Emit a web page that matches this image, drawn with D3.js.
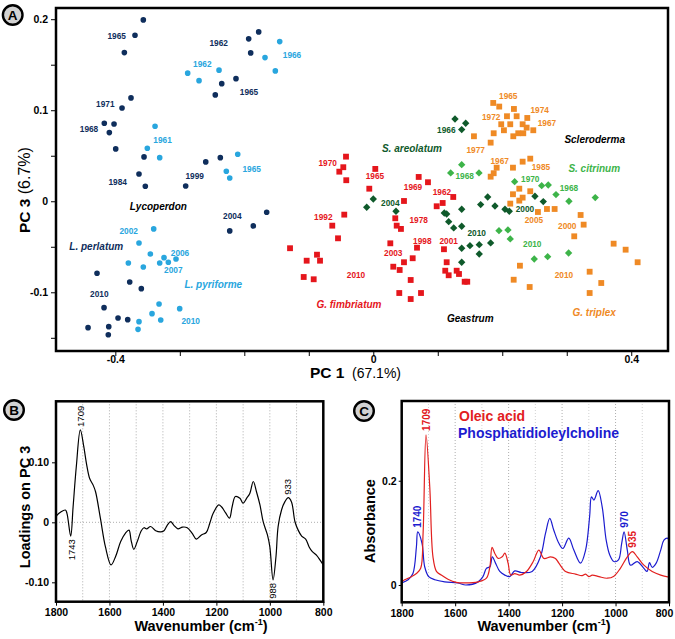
<!DOCTYPE html>
<html>
<head>
<meta charset="utf-8">
<script src="https://cdnjs.cloudflare.com/ajax/libs/d3/7.8.5/d3.min.js"></script>
<style>
    body { margin: 0; background: #fff; }
    svg { font-family: 'Liberation Sans', Arial, sans-serif; }
    .axis text { font-size: 10.5px; font-weight: bold; fill: #000; }
    .axis line { stroke: #000; stroke-width: 1; }
    .year { font-size: 8.3px; font-weight: bold; text-anchor: middle; }
    .species { font-size: 10px; font-weight: bold; font-style: italic; text-anchor: middle; }
    .title { font-size: 14.5px; font-weight: bold; }
    .grid { stroke: #999; stroke-width: 0.8; stroke-dasharray: 1,2; }
    .frame { fill: none; stroke: #000; stroke-width: 2.5; }
</style>
</head>
<body>
<div id="chart"></div>
<script>
// ---------- panel A : PCA scores [PC1, PC3]
var perlatum = [[-0.3566,0.1992],[-0.3695,0.1824],[-0.3860,0.1633],[-0.3757,0.1135],[-0.3896,0.1025],
    [-0.4171,0.0857],[-0.4020,0.0849],[-0.4093,0.0754],[-0.3994,0.0575],[-0.3555,0.0487],[-0.3633,0.0300],
    [-0.3535,0.0165],[-0.2909,0.0168],[-0.2598,0.0432],[-0.2372,0.0479],[-0.2450,0.1168],[-0.2350,0.1292],
    [-0.2129,0.1347],[-0.1932,0.1784],[-0.1777,0.1860],[-0.1901,0.1630],[-0.1653,-0.0121],[-0.1860,-0.0271],
    [-0.2226,-0.0326],[-0.4284,-0.0791],[-0.3777,-0.0887],[-0.3597,-0.0960],[-0.4175,-0.1169],[-0.3958,-0.1282],
    [-0.3808,-0.1301],[-0.4423,-0.1389],[-0.4102,-0.1378],[-0.4109,-0.1466]];
var pyriforme = [[-0.2878,0.1407],[-0.2702,0.1325],[-0.2392,0.1440],[-0.1679,0.1578],[-0.1451,0.1754],
    [-0.1519,0.1432],[-0.3384,0.0824],[-0.3504,0.0582],[-0.3312,0.0479],[-0.2102,0.0516],[-0.2279,0.0330],
    [-0.2226,0.0256],[-0.3405,-0.0304],[-0.3633,-0.0458],[-0.3457,-0.0579],[-0.3798,-0.0678],[-0.3566,-0.0722],
    [-0.3312,-0.0678],[-0.3245,-0.0620],[-0.3178,-0.0670],[-0.3059,-0.0634],[-0.3322,-0.1129],[-0.3002,-0.1180],
    [-0.3431,-0.1235],[-0.3296,-0.1304],[-0.3633,-0.1323],[-0.3648,-0.1407]];
var fimbriatum = [[-0.0527,0.0325],[-0.0636,-0.0268],[-0.0547,-0.0407],[-0.1291,-0.0516],[-0.1033,-0.0653],
    [-0.0873,-0.0587],[-0.0826,-0.0653],[-0.1079,-0.0832],[-0.0924,-0.0857],[-0.0423,0.0490],[-0.0465,0.0374],
    [-0.0419,0.0231],[0.0031,0.0355],[-0.0062,0.0138],[0.0704,0.0267],[0.0848,0.0209],[0.0476,0.0003],
    [0.0341,-0.0187],[0.0363,-0.0268],[0.0429,-0.0304],[0.0264,-0.0462],[0.0678,-0.0510],[0.0611,-0.0626],
    [0.0476,-0.0670],[0.0310,-0.0719],[0.0409,-0.0755],[0.0580,-0.0865],[0.0403,-0.1008],[0.0580,-0.1074],
    [0.0740,-0.1008],[0.0983,-0.0055],[0.1076,-0.0019],[0.1240,0.0047],[-0.0450,-0.0147],[0.1096,-0.0527],
    [0.1138,-0.0670],[0.1116,-0.0763],[0.1169,-0.0813],[0.1293,-0.0763],[0.1329,-0.0799],[0.1417,-0.0884],
    [0.1457,-0.0884]];
var areolatum = [[0.1267,0.0904],[0.1433,0.0857],[0.1371,0.0787],[-0.0102,-0.0066],[0.0000,0.0025],
    [0.0352,-0.0110],[0.1101,-0.0129],[0.1138,-0.0140],[0.1169,-0.0224],[0.1247,-0.0293],[0.1371,-0.0088],
    [0.1371,-0.0275],[0.1774,0.0047],[0.1665,-0.0037],[0.1887,-0.0052],[0.2042,-0.0088],[0.2109,-0.0110],
    [0.2507,0.0055],[0.2636,-0.0004],[0.1371,-0.0516],[0.1499,-0.0488],[0.1643,-0.0477],[0.1820,-0.0458],
    [0.1643,-0.0579],[0.1371,-0.0670]];
var citrinum = [[0.1371,0.0402],[0.1200,0.0311],[0.1639,0.0311],[0.2192,0.0215],[0.2611,0.0171],
    [0.2713,0.0179],[0.2833,0.0073],[0.3034,0.0000],[0.3442,0.0040],[0.1949,-0.0323],[0.2088,-0.0315],
    [0.2124,-0.0414],[0.2496,-0.0634],[0.2704,-0.0609],[0.3029,-0.0568]];
var triplex = [[0.1860,0.1080],[0.1953,0.1040],[0.2181,0.1014],[0.2073,0.0934],[0.2223,0.0934],
    [0.2388,0.0915],[0.1984,0.0846],[0.2124,0.0846],[0.2316,0.0846],[0.2378,0.0809],[0.2481,0.0780],
    [0.2026,0.0780],[0.1867,0.0747],[0.1561,0.0714],[0.2171,0.0714],[0.2248,0.0747],[0.2326,0.0747],
    [0.1820,0.0644],[0.1913,0.0369],[0.1867,0.0308],[0.1820,0.0270],[0.2166,0.0369],[0.2316,0.0435],
    [0.2434,0.0468],[0.2264,0.0138],[0.2166,0.0077],[0.2434,0.0110],[0.2316,0.0040],[0.2264,0.0007],
    [0.2124,-0.0026],[0.2553,-0.0118],[0.2693,-0.0085],[0.2812,-0.0085],[0.3215,-0.0151],[0.3262,-0.0257],
    [0.3116,-0.0385],[0.3727,-0.0466],[0.3913,-0.0532],[0.4099,-0.0670],[0.2274,-0.0708],[0.2177,-0.0862],
    [0.2425,-0.0942],[0.3355,-0.0774],[0.3535,-0.0898],[0.3355,-0.1008]];

// collection years written next to the points [year, PC1, PC3]
var perlatumYears = [['1965',-0.3978,0.1809],['1962',-0.2397,0.1736],['1965',-0.1927,0.1201],['1971',-0.4155,0.1069],
    ['1968',-0.4408,0.0798],['1984',-0.3963,0.0215],['1999',-0.2769,0.0278],['2004',-0.2186,-0.0162],['2010',-0.4248,-0.1019]];
var pyriformeYears = [['1962',-0.2651,0.1509],['1966',-0.1260,0.1608],['1961',-0.3267,0.0677],['1965',-0.1885,0.0355],
    ['2002',-0.3792,-0.0323],['2006',-0.2997,-0.0565],['2007',-0.3101,-0.0752],['2010',-0.2831,-0.1315]];
var fimbriatumYears = [['1970',-0.0707,0.0424],['1965',0.0026,0.0278],['1969',0.0616,0.0154],['1962',0.1065,0.0105],
    ['1992',-0.0775,-0.0169],['1978',0.0704,-0.0205],['1998',0.0760,-0.0433],['2001',0.1169,-0.0440],
    ['2003',0.0310,-0.0565],['2010',-0.0268,-0.0807]];
var areolatumYears = [['1966',0.1132,0.0780],['2004',0.0264,-0.0022],['2010',0.1603,-0.0348],['2000',0.2352,-0.0088]];
var citrinumYears = [['1968',0.1417,0.0275],['1970',0.2434,0.0248],['1968',0.3034,0.0149],['2010',0.2465,-0.0473]];
var triplexYears = [['1965',0.2093,0.1157],['1974',0.2580,0.1000],['1972',0.1829,0.0930],['1967',0.2693,0.0857],
    ['1977',0.1588,0.0560],['1967',0.1960,0.0446],['1985',0.2600,0.0377],['2005',0.2491,-0.0205],
    ['2000',0.3008,-0.0268],['2010',0.2957,-0.0810]];

var speciesNames = ['L. perlatum', 'L. pyriforme', 'G. fimbriatum', 'S. areolatum', 'S. citrinum', 'G. triplex'];
var speciesNamePos = [[-0.4295,-0.0499],[-0.2481,-0.0912],[-0.0377,-0.1129],[0.0600,0.0575],[0.3426,0.0358],[0.3426,-0.1220]];
var genusNames = ['Lycoperdon', 'Scleroderma', 'Geastrum'];
var genusPos = [[-0.3333,-0.0059],[0.3433,0.0681],[0.1504,-0.1286]];

var pc1Ticks = [-0.4, -0.3, -0.2, -0.1, 0, 0.1, 0.2, 0.3, 0.4];
var pc1Labels = ['-0.4', '', '', '', '0', '', '', '', '0.4'];
var pc3Ticks = [-0.15, -0.1, -0.05, 0, 0.05, 0.1, 0.15, 0.2];
var pc3Labels = ['', '-0.1', '', '0', '', '0.1', '', '0.2'];

// ---------- panel B : loadings on PC 3
var loadingWn = [1800,1796,1765,1759,1745,1736,1724,1709,1696,1686,1674,1661,1652,1634,1615,1594,1577,1558,1540,
    1527,1519,1509,1496,1481,1471,1461,1446,1427,1409,1396,1384,1371,1359,1344,1327,1309,1291,1275,1256,1238,
    1225,1212,1191,1181,1166,1151,1141,1129,1112,1100,1087,1075,1062,1050,1037,1025,1009,1000,988,977,969,956,
    944,931,919,906,894,881,866,853,841,825,812,800];
var loadingVal = [0.007,0.012,0.0205,0.015,-0.023,0.026,0.093,0.154,0.126,0.098,0.073,0.062,0.051,0.007,-0.041,
    -0.071,-0.057,-0.032,-0.018,-0.013,-0.030,-0.045,-0.032,-0.014,-0.009,-0.011,-0.007,-0.014,-0.016,-0.014,
    -0.005,0.001,-0.005,-0.011,-0.008,-0.009,-0.018,-0.028,-0.021,-0.017,-0.002,0.015,0.029,0.026,0.016,0.007,
    0.026,0.043,0.040,0.032,0.040,0.048,0.068,0.051,0.029,0.001,-0.021,-0.041,-0.096,-0.057,-0.007,0.021,0.034,
    0.041,0.034,0.001,-0.013,-0.023,-0.028,-0.041,-0.049,-0.055,-0.063,-0.071];
var loadingPeaks = [['1709',1709,'up'],['1743',1743,'down'],['988',988,'down'],['933',933,'up']];

// ---------- panel C : reference spectra
var oleicWn = [1800,1789,1764,1745,1729,1720,1709,1695,1683,1670,1652,1627,1596,1564,1514,1483,1470,1462,1452,
    1439,1424,1414,1402,1392,1377,1358,1333,1308,1287,1268,1243,1225,1212,1187,1150,1125,1112,1100,1087,1062,
    1031,1006,982,956,937,919,894,863,831,800];
var oleicAbs = [0.006,0.010,0.016,0.022,0.032,0.099,0.288,0.188,0.054,0.026,0.019,0.011,0.005,0.004,0.006,0.013,
    0.035,0.072,0.061,0.051,0.054,0.061,0.042,0.019,0.022,0.019,0.026,0.045,0.067,0.051,0.054,0.051,0.042,0.026,
    0.021,0.018,0.021,0.016,0.019,0.016,0.013,0.017,0.032,0.054,0.064,0.054,0.038,0.026,0.019,0.015];
var pocWn = [1800,1776,1758,1745,1740,1724,1714,1699,1676,1639,1590,1560,1514,1496,1483,1470,1461,1449,1433,
    1414,1396,1377,1352,1312,1281,1262,1246,1231,1212,1197,1175,1156,1131,1112,1097,1090,1081,1065,1050,1035,
    1022,1006,989,977,968,956,944,919,894,882,873,863,848,831,819,806,800];
var pocAbs = [0.004,0.010,0.022,0.073,0.102,0.080,0.035,0.016,0.010,0.006,0.004,0.000,0.006,0.016,0.032,0.035,
    0.054,0.042,0.026,0.019,0.016,0.027,0.024,0.026,0.054,0.099,0.128,0.105,0.080,0.070,0.090,0.067,0.042,0.067,
    0.131,0.169,0.163,0.181,0.150,0.086,0.058,0.045,0.048,0.080,0.102,0.067,0.038,0.045,0.032,0.026,0.043,0.034,
    0.042,0.067,0.086,0.090,0.086];
var oleicPeaks = [['1709',1709,0.288],['935',935,0.064]];
var pocPeaks = [['1740',1740,0.102],['970',968,0.102]];

var wnTicks = [1800, 1600, 1400, 1200, 1000, 800];
var wnGrid = [1700, 1600, 1500, 1400, 1300, 1200, 1100, 1000, 900];
var loadingTicks = [-0.1, 0, 0.1];
var loadingLabels = ['-0.10', '0', '0.10'];
var absTicks = [0, 0.2];
var absLabels = ['0', '0.2'];

var colors = {
    navy: '#0f2e5c', sky: '#29a6de', red: '#e5161c',
    dgreen: '#0f5a2b', lgreen: '#3db449', orange: '#ef8a25'
};

var svg = d3.select('#chart')
    .append('svg')
    .attr('width', 675)
    .attr('height', 639);

drawScatter();
drawLoadings();
drawSpectra();

function panelBadge (x, y, letter) {
    svg.append('circle')
        .attr('cx', x).attr('cy', y).attr('r', 9.8)
        .attr('fill', '#d2d2d2').attr('stroke', '#000').attr('stroke-width', 2.4);
    svg.append('text')
        .attr('x', x).attr('y', y + 4.8)
        .attr('text-anchor', 'middle')
        .style('font-size', '13.5px').style('font-weight', 'bold')
        .text(letter);
}

function cleanAxis (g) {
    g.select('.domain').remove();
}

function wavenumberTitle (cx) {
    var t = svg.append('text')
        .attr('class', 'title')
        .attr('x', cx).attr('y', 631)
        .attr('text-anchor', 'middle');
    t.append('tspan').text('Wavenumber (cm');
    t.append('tspan').attr('dy', -6).style('font-size', '9px').text('-1');
    t.append('tspan').attr('dy', 6).text(')');
}

function drawScatter () {
    var x = d3.scaleLinear().domain([-0.492, 0.457]).range([56, 668]);
    var y = d3.scaleLinear().domain([-0.1645, 0.2123]).range([351, 8]);

    svg.append('g')
        .attr('class', 'axis')
        .attr('transform', 'translate(0,351)')
        .call(d3.axisBottom(x).tickValues(pc1Ticks).tickSize(5).tickPadding(0)
            .tickFormat(function (d, i) { return pc1Labels[i]; }))
        .call(cleanAxis);

    svg.append('g')
        .attr('class', 'axis')
        .attr('transform', 'translate(56,0)')
        .call(d3.axisLeft(y).tickValues(pc3Ticks).tickSize(5).tickPadding(3)
            .tickFormat(function (d, i) { return pc3Labels[i]; }))
        .call(cleanAxis);

    var groups = [
        { pts: perlatum, years: perlatumYears, color: colors.navy, shape: 'circle' },
        { pts: pyriforme, years: pyriformeYears, color: colors.sky, shape: 'circle' },
        { pts: fimbriatum, years: fimbriatumYears, color: colors.red, shape: 'square' },
        { pts: areolatum, years: areolatumYears, color: colors.dgreen, shape: 'diamond' },
        { pts: citrinum, years: citrinumYears, color: colors.lgreen, shape: 'diamond' },
        { pts: triplex, years: triplexYears, color: colors.orange, shape: 'square' }
    ];

    var symbols = {
        circle: d3.symbol(d3.symbolCircle, 25),
        square: d3.symbol(d3.symbolSquare, 34),
        diamond: d3.symbol(d3.symbolSquare, 27)
    };

    groups.forEach(function (grp, gi) {
        var g = svg.append('g');

        g.selectAll('path')
            .data(grp.pts)
            .enter()
            .append('path')
            .attr('d', symbols[grp.shape])
            .attr('fill', grp.color)
            .attr('transform', function (d) {
                var t = 'translate(' + x(d[0]) + ',' + y(d[1]) + ')';
                return grp.shape === 'diamond' ? t + ' rotate(45)' : t;
            });

        g.selectAll('text.year')
            .data(grp.years)
            .enter()
            .append('text')
            .attr('class', 'year')
            .attr('fill', grp.color)
            .attr('x', function (d) { return x(d[1]); })
            .attr('y', function (d) { return y(d[2]); })
            .attr('dy', '0.35em')
            .text(function (d) { return d[0]; });

        g.append('text')
            .attr('class', 'species')
            .attr('fill', grp.color)
            .attr('x', x(speciesNamePos[gi][0]))
            .attr('y', y(speciesNamePos[gi][1]))
            .attr('dy', '0.35em')
            .text(speciesNames[gi]);
    });

    svg.selectAll('text.genus')
        .data(genusNames)
        .enter()
        .append('text')
        .attr('class', 'species')
        .attr('fill', '#000')
        .attr('x', function (d, i) { return x(genusPos[i][0]); })
        .attr('y', function (d, i) { return y(genusPos[i][1]); })
        .attr('dy', '0.35em')
        .text(function (d) { return d; });

    svg.append('rect')
        .attr('class', 'frame')
        .attr('x', 56).attr('y', 8)
        .attr('width', 612).attr('height', 343);

    var xt = svg.append('text').attr('x', 310).attr('y', 378);
    xt.append('tspan').style('font-size', '15.5px').style('font-weight', 'bold').text('PC 1');
    xt.append('tspan').attr('x', 352).style('font-size', '14px').text('(67.1%)');

    var yt = svg.append('text').attr('transform', 'translate(30,233) rotate(-90)');
    yt.append('tspan').style('font-size', '15.5px').style('font-weight', 'bold').text('PC 3 ');
    yt.append('tspan').style('font-size', '16px').text('(6.7%)');

    panelBadge(12.7, 15, 'A');
}

function drawLoadings () {
    var left = 56, right = 323.3, top = 401.3, bottom = 601.7;
    var x = d3.scaleLinear().domain([1800, 800]).range([left, right]);
    var y = d3.scaleLinear().domain([-0.1323, 0.2017]).range([bottom, top]);

    svg.append('g')
        .selectAll('line')
        .data(wnGrid)
        .enter()
        .append('line')
        .attr('class', 'grid')
        .attr('x1', function (d) { return x(d); })
        .attr('x2', function (d) { return x(d); })
        .attr('y1', top).attr('y2', bottom);

    svg.append('line')
        .attr('class', 'grid')
        .attr('x1', left).attr('x2', right)
        .attr('y1', y(0)).attr('y2', y(0));

    svg.append('g')
        .attr('class', 'axis')
        .attr('transform', 'translate(0,' + bottom + ')')
        .call(d3.axisBottom(x).tickValues(wnTicks).tickSize(4).tickPadding(3).tickFormat(d3.format('d')))
        .call(cleanAxis);

    svg.append('g')
        .attr('class', 'axis')
        .attr('transform', 'translate(' + left + ',0)')
        .call(d3.axisLeft(y).tickValues(loadingTicks).tickSize(4).tickPadding(3)
            .tickFormat(function (d, i) { return loadingLabels[i]; }))
        .call(cleanAxis);

    svg.append('clipPath').attr('id', 'clipB')
        .append('rect').attr('x', left).attr('y', top).attr('width', right - left).attr('height', bottom - top);

    var line = d3.line()
        .x(function (d, i) { return x(loadingWn[i]); })
        .y(function (d) { return y(d); })
        .curve(d3.curveCatmullRom.alpha(0.5));

    svg.append('path')
        .datum(loadingVal)
        .attr('clip-path', 'url(#clipB)')
        .attr('d', line)
        .attr('fill', 'none')
        .attr('stroke', '#000')
        .attr('stroke-width', 1.2);

    svg.selectAll('text.peakB')
        .data(loadingPeaks)
        .enter()
        .append('text')
        .attr('class', 'peakB')
        .style('font-size', '9.5px')
        .attr('text-anchor', function (d) { return d[2] === 'up' ? 'start' : 'end'; })
        .attr('dy', '0.35em')
        .attr('transform', function (d) {
            var near = d3.least(loadingWn.map(function (w, k) { return [Math.abs(w - d[1]), loadingVal[k]]; }),
                function (p) { return p[0]; });
            var yy = d[2] === 'up' ? y(near[1]) - 3 : y(near[1]) + 3;
            return 'translate(' + x(d[1]) + ',' + yy + ') rotate(-90)';
        })
        .text(function (d) { return d[0]; });

    svg.append('rect')
        .attr('class', 'frame')
        .attr('x', left).attr('y', top)
        .attr('width', right - left).attr('height', bottom - top);

    wavenumberTitle(201);

    svg.append('text')
        .attr('class', 'title')
        .attr('text-anchor', 'middle')
        .attr('transform', 'translate(30,507) rotate(-90)')
        .text('Loadings on PC 3');

    panelBadge(14, 410, 'B');
}

function drawSpectra () {
    var left = 401.7, right = 669, top = 401, bottom = 602.3;
    var x = d3.scaleLinear().domain([1800, 800]).range([left, right]);
    var y = d3.scaleLinear().domain([-0.0332, 0.353]).range([bottom, top]);

    svg.append('g')
        .selectAll('line')
        .data(wnGrid)
        .enter()
        .append('line')
        .attr('class', 'grid')
        .attr('x1', function (d) { return x(d); })
        .attr('x2', function (d) { return x(d); })
        .attr('y1', top).attr('y2', bottom)
        .style('opacity', function (d) { return d % 200 === 0 ? 1 : 0.55; });

    svg.append('g')
        .attr('class', 'axis')
        .attr('transform', 'translate(0,' + bottom + ')')
        .call(d3.axisBottom(x).tickValues(wnTicks).tickSize(4).tickPadding(3).tickFormat(d3.format('d')))
        .call(cleanAxis)
        .call(function (g) {
            // last label sits inside the page edge
            g.selectAll('.tick text').filter(function (d) { return d === 800; }).attr('dx', -5);
        });

    svg.append('g')
        .attr('class', 'axis')
        .attr('transform', 'translate(' + left + ',0)')
        .call(d3.axisLeft(y).tickValues(absTicks).tickSize(3).tickPadding(2)
            .tickFormat(function (d, i) { return absLabels[i]; }))
        .call(cleanAxis);

    svg.append('clipPath').attr('id', 'clipC')
        .append('rect').attr('x', left).attr('y', top).attr('width', right - left).attr('height', bottom - top);

    var series = [
        { wn: pocWn, val: pocAbs, color: '#1c1ccf' },
        { wn: oleicWn, val: oleicAbs, color: '#e2201f' }
    ];

    series.forEach(function (s) {
        var line = d3.line()
            .x(function (d, i) { return x(s.wn[i]); })
            .y(function (d) { return y(d); })
            .curve(d3.curveCatmullRom.alpha(0.5));

        svg.append('path')
            .datum(s.val)
            .attr('clip-path', 'url(#clipC)')
            .attr('d', line)
            .attr('fill', 'none')
            .attr('stroke', s.color)
            .attr('stroke-width', 1.2);
    });

    var peaks = oleicPeaks.map(function (p) { return p.concat('#e2201f'); })
        .concat(pocPeaks.map(function (p) { return p.concat('#1c1ccf'); }));

    svg.selectAll('text.peakC')
        .data(peaks)
        .enter()
        .append('text')
        .attr('class', 'peakC')
        .style('font-size', '10px')
        .style('font-weight', 'bold')
        .attr('fill', function (d) { return d[3]; })
        .attr('dy', '0.35em')
        .attr('transform', function (d) {
            return 'translate(' + x(d[1]) + ',' + (y(d[2]) - 4) + ') rotate(-90)';
        })
        .text(function (d) { return d[0]; });

    svg.append('text')
        .attr('x', 459).attr('y', 421)
        .attr('fill', '#e2201f')
        .style('font-size', '14px').style('font-weight', 'bold')
        .text('Oleic acid');
    svg.append('text')
        .attr('x', 458).attr('y', 437.5)
        .attr('fill', '#1c1ccf')
        .style('font-size', '14px').style('font-weight', 'bold')
        .text('Phosphatidioleylcholine');

    svg.append('rect')
        .attr('class', 'frame')
        .attr('x', left).attr('y', top)
        .attr('width', right - left).attr('height', bottom - top);

    wavenumberTitle(544);

    svg.append('text')
        .attr('class', 'title')
        .attr('text-anchor', 'middle')
        .attr('transform', 'translate(375,521) rotate(-90)')
        .text('Absorbance');

    panelBadge(364, 411, 'C');
}
</script>
</body>
</html>
